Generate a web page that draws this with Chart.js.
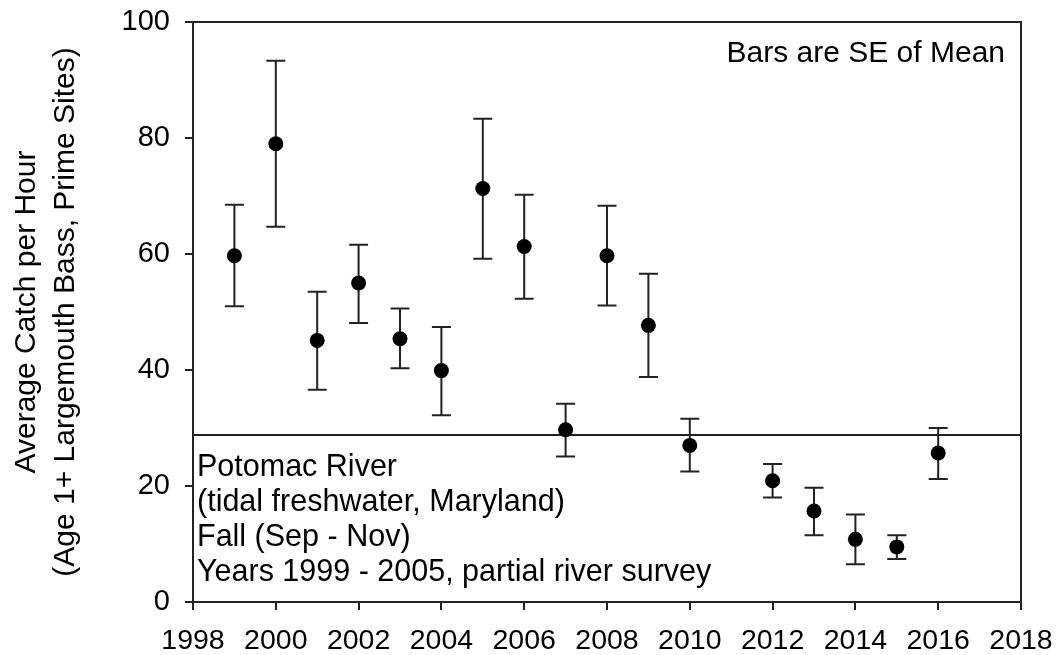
<!DOCTYPE html>
<html><head><meta charset="utf-8">
<script src="https://cdn.jsdelivr.net/npm/chart.js@4"></script>
<style>html,body{margin:0;padding:0;background:#fff}#wrap{width:1056px;height:655px;position:relative}</style>
</head><body><div id="wrap"><canvas id="c"></canvas></div>
<script>
const years = [1999, 2000, 2001, 2002, 2003, 2004, 2005, 2006, 2007, 2008, 2009, 2010, 2012, 2013, 2014, 2015, 2016];
const means = [59.7, 79.0, 45.1, 55.0, 45.4, 39.9, 71.3, 61.3, 29.7, 59.7, 47.7, 27.0, 20.9, 15.7, 10.8, 9.5, 25.7];
const upper = [68.5, 93.3, 53.5, 61.6, 50.6, 47.4, 83.3, 70.2, 34.2, 68.3, 56.6, 31.6, 23.8, 19.7, 15.1, 11.5, 30.0];
const lower = [51.0, 64.7, 36.6, 48.1, 40.3, 32.2, 59.2, 52.3, 25.1, 51.1, 38.8, 22.5, 18.0, 11.5, 6.5, 7.4, 21.2];
const refLevel = 28.8;
const xTicks = [1998, 2000, 2002, 2004, 2006, 2008, 2010, 2012, 2014, 2016, 2018];
const yTicks = [0, 20, 40, 60, 80, 100];
const yTitle = ['Average Catch per Hour', '(Age 1+ Largemouth Bass, Prime Sites)'];
const noteTopRight = 'Bars are SE of Mean';
const noteLines = ['Potomac River', '(tidal freshwater, Maryland)', 'Fall (Sep - Nov)', 'Years 1999 - 2005, partial river survey'];

const FONT = '"Liberation Sans", Arial, sans-serif';
const INK = '#222';

const errorBars = {
  id: 'errorBars',
  beforeDatasetsDraw(chart) {
    const {ctx, scales: {x, y}} = chart;
    ctx.save();
    ctx.strokeStyle = INK; ctx.lineWidth = 2;
    years.forEach((yr, i) => {
      const px = x.getPixelForValue(yr);
      const pt = y.getPixelForValue(upper[i]);
      const pb = y.getPixelForValue(lower[i]);
      ctx.beginPath();
      ctx.moveTo(px, pt); ctx.lineTo(px, pb);
      ctx.moveTo(px - 9.5, pt); ctx.lineTo(px + 9.5, pt);
      ctx.moveTo(px - 9.5, pb); ctx.lineTo(px + 9.5, pb);
      ctx.stroke();
    });
    ctx.restore();
  }
};

const frameAndNotes = {
  id: 'frameAndNotes',
  afterDraw(chart) {
    const {ctx, chartArea: a} = chart;
    ctx.save();
    ctx.strokeStyle = INK; ctx.lineWidth = 2;
    ctx.strokeRect(a.left, a.top, a.right - a.left, a.bottom - a.top);
    ctx.fillStyle = '#000';
    ctx.font = '30px ' + FONT;
    ctx.textAlign = 'right'; ctx.textBaseline = 'alphabetic';
    ctx.fillText(noteTopRight, a.right - 16, a.top + 40);
    ctx.font = '30.5px ' + FONT;
    ctx.textAlign = 'left';
    noteLines.forEach((t, i) => ctx.fillText(t, a.left + 4, a.bottom - 126 + i * 35));
    ctx.restore();
  }
};

new Chart(document.getElementById('c'), {
  type: 'scatter',
  data: {
    datasets: [
      {
        data: years.map((yr, i) => ({x: yr, y: means[i]})),
        backgroundColor: '#000', borderColor: '#000',
        pointRadius: 7.5, pointHoverRadius: 7.5, borderWidth: 0
      },
      {
        type: 'line',
        data: [{x: xTicks[0], y: refLevel}, {x: xTicks[xTicks.length - 1], y: refLevel}],
        borderColor: INK, borderWidth: 2, pointRadius: 0, fill: false
      }
    ]
  },
  options: {
    responsive: true, maintainAspectRatio: false, animation: false,
    layout: {padding: {top: 22, right: 35, left: 0, bottom: 0}},
    plugins: {legend: {display: false}, tooltip: {enabled: false}},
    scales: {
      x: {
        type: 'linear', min: xTicks[0], max: xTicks[xTicks.length - 1],
        afterBuildTicks: s => { s.ticks = xTicks.map(v => ({value: v})); },
        afterFit: s => { s.height = 53; s.paddingLeft = 0; s.paddingRight = 0; },
        grid: {display: true, drawOnChartArea: false, drawTicks: true, tickLength: 8, color: INK, lineWidth: 2},
        border: {display: true, color: INK, width: 2},
        ticks: {color: '#000', font: {family: FONT, size: 28.5, lineHeight: 1}, padding: 17, maxRotation: 0,
                callback: v => String(v)}
      },
      y: {
        type: 'linear', min: yTicks[0], max: yTicks[yTicks.length - 1],
        afterBuildTicks: s => { s.ticks = yTicks.map(v => ({value: v})); },
        afterFit: s => { s.width = 193; s.paddingTop = 0; s.paddingBottom = 0; },
        grid: {display: true, drawOnChartArea: false, drawTicks: true, tickLength: 8, color: INK, lineWidth: 2},
        border: {display: true, color: INK, width: 2},
        ticks: {color: '#000', font: {family: FONT, size: 29}, padding: 15, callback: v => String(v)},
        title: {display: true, text: yTitle, color: '#000', font: {family: FONT, size: 30, lineHeight: 1.3}, padding: {top: 7, bottom: 0}}
      }
    }
  },
  plugins: [errorBars, frameAndNotes]
});
</script></body></html>
